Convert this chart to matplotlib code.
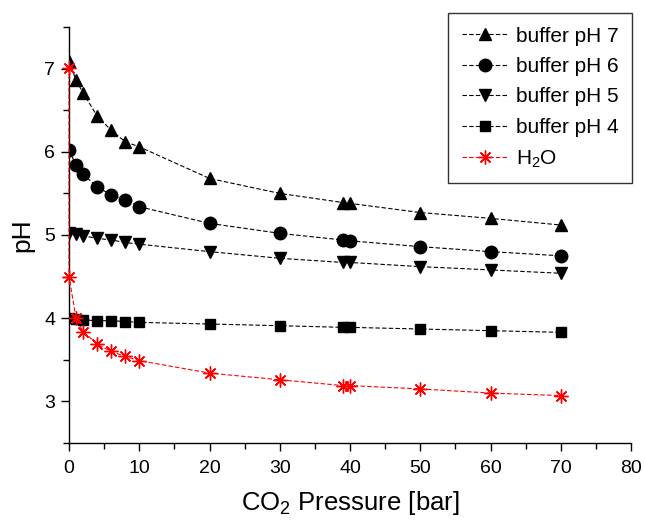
import matplotlib
matplotlib.use("Agg")
import matplotlib.pyplot as plt
from matplotlib.ticker import MultipleLocator

plt.rcParams['font.family'] = ['Liberation Sans', 'DejaVu Sans']
plt.rcParams['mathtext.fontset'] = 'custom'
plt.rcParams['mathtext.rm'] = 'Liberation Sans'
plt.rcParams['mathtext.it'] = 'Liberation Sans'

# Data
x_buf = [0, 1, 2, 4, 6, 8, 10, 20, 30, 39, 40, 50, 60, 70]
ph7 = [7.09, 6.86, 6.71, 6.43, 6.26, 6.12, 6.06, 5.68, 5.50, 5.39, 5.38, 5.27, 5.20, 5.12]
ph6 = [6.02, 5.84, 5.73, 5.58, 5.48, 5.42, 5.34, 5.14, 5.02, 4.94, 4.93, 4.86, 4.80, 4.75]
ph5 = [5.03, 5.01, 4.99, 4.96, 4.94, 4.91, 4.89, 4.80, 4.72, 4.67, 4.67, 4.62, 4.58, 4.54]
ph4 = [4.00, 3.99, 3.98, 3.97, 3.97, 3.96, 3.95, 3.93, 3.91, 3.89, 3.89, 3.87, 3.85, 3.83]
x_h2o = [0, 0, 1, 2, 4, 6, 8, 10, 20, 30, 39, 40, 50, 60, 70]
h2o = [7.01, 4.50, 4.00, 3.84, 3.69, 3.60, 3.54, 3.49, 3.34, 3.26, 3.19, 3.19, 3.15, 3.10, 3.07]

labels = ['buffer pH 7', 'buffer pH 6', 'buffer pH 5', 'buffer pH 4', r'H$_2$O']

fig = plt.figure(figsize=(6.45, 5.2), dpi=100)
ax = fig.add_axes([69 / 645, 1 - 443 / 520, (631 - 69) / 645, (443 - 27) / 520])

dash = (0, (4, 2))
ax.plot(x_buf, ph7, color='black', ls=dash, lw=0.8, marker='^', ms=9, label=labels[0])
ax.plot(x_buf, ph6, color='black', ls=dash, lw=0.8, marker='o', ms=9, label=labels[1])
ax.plot(x_buf, ph5, color='black', ls=dash, lw=0.8, marker='v', ms=9, label=labels[2])
ax.plot(x_buf, ph4, color='black', ls=dash, lw=0.8, marker='s', ms=7, label=labels[3])
ax.plot(x_h2o, h2o, color='red', ls=dash, lw=0.8, marker=(8, 2, 0), ms=10, mew=1.0,
        label=labels[4], clip_on=False, zorder=5)

ax.set_xlim(0, 80)
ax.set_ylim(2.5, 7.5)
ax.xaxis.set_major_locator(MultipleLocator(10))
ax.xaxis.set_minor_locator(MultipleLocator(5))
ax.yaxis.set_major_locator(MultipleLocator(1))
ax.yaxis.set_minor_locator(MultipleLocator(0.5))

for s in ['top', 'right']:
    ax.spines[s].set_visible(False)
for s in ['left', 'bottom']:
    ax.spines[s].set_linewidth(1.0)

ax.tick_params(which='major', direction='out', length=6, width=1.0, labelsize=14)
ax.tick_params(which='minor', direction='out', length=4, width=1.0)
ax.tick_params(axis='x', which='major', pad=6)
ax.tick_params(axis='y', which='major', pad=4)

ax.set_xlabel(r'CO$_2$ Pressure [bar]', fontsize=18.5, labelpad=9)
ax.set_ylabel('pH', fontsize=19, labelpad=7)

leg = fig.legend(loc='upper right', bbox_to_anchor=(632 / 645, 1 - 13 / 520),
                 bbox_transform=fig.transFigure, borderaxespad=0,
                 fontsize=15, frameon=True, fancybox=False, edgecolor='black',
                 handlelength=2.2, handletextpad=0.4, labelspacing=0.55,
                 borderpad=0.65, numpoints=1)
leg.get_frame().set_linewidth(1.0)

fig.savefig('out.png', dpi=100)
